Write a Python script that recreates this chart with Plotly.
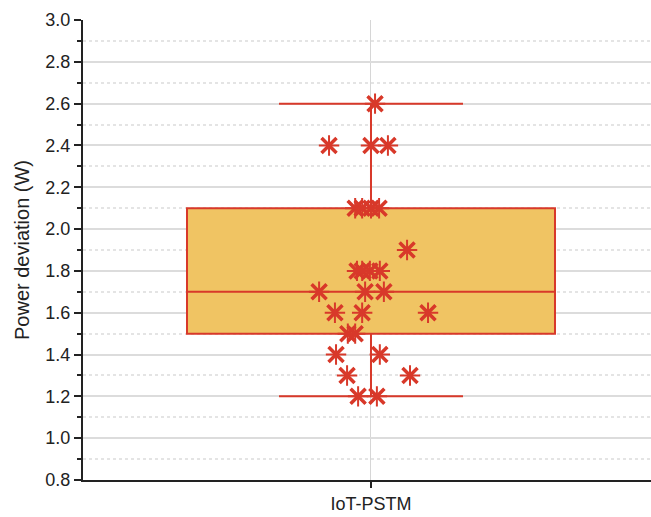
import plotly.graph_objects as go

category = "IoT-PSTM"
q1, median, q3 = 1.5, 1.7, 2.1
lower_whisker, upper_whisker = 1.2, 2.6

# observed points: jitter offset (fraction of box width) and value
point_jitter = [0.011,
                -0.114, 0.0, 0.046,
                -0.043, -0.024, 0.0, 0.022,
                0.098,
                -0.038, -0.024, -0.003, 0.024,
                -0.141, -0.016, 0.035,
                -0.098, -0.024, 0.155,
                -0.063, -0.043,
                -0.095, 0.024,
                -0.065, 0.106,
                -0.035, 0.016]
point_values = [2.6,
                2.4, 2.4, 2.4,
                2.1, 2.1, 2.1, 2.1,
                1.9,
                1.8, 1.8, 1.8, 1.8,
                1.7, 1.7, 1.7,
                1.6, 1.6, 1.6,
                1.5, 1.5,
                1.4, 1.4,
                1.3, 1.3,
                1.2, 1.2]

RED = "#D8392A"
FILL = "#F0C463"

fig = go.Figure()
fig.add_trace(go.Box(
    x=[0], q1=[q1], median=[median], q3=[q3],
    lowerfence=[lower_whisker], upperfence=[upper_whisker],
    width=1.0, whiskerwidth=0.5,
    fillcolor=FILL, line=dict(color=RED, width=2),
    boxpoints=False, hoverinfo="skip", showlegend=False,
))
fig.add_trace(go.Scatter(
    x=point_jitter, y=point_values, mode="markers",
    marker=dict(symbol="x-thin-open", size=15,
                line=dict(color=RED, width=3.5), color=RED),
    showlegend=False, hoverinfo="skip",
))
fig.add_trace(go.Scatter(
    x=point_jitter, y=point_values, mode="markers",
    marker=dict(symbol="asterisk-open", size=17,
                line=dict(color=RED, width=2), color=RED),
    showlegend=False,
))

fig.update_layout(
    width=651, height=517,
    margin=dict(l=83, r=0, t=20, b=37),
    paper_bgcolor="white", plot_bgcolor="white",
    font=dict(family="Liberation Sans, Arial, sans-serif", color="#222"),
    xaxis=dict(
        range=[-0.7826, 0.7609],
        tickvals=[0], ticktext=[category],
        showgrid=True, gridcolor="#D6D6D6", gridwidth=1,
        showline=True, linecolor="#222", linewidth=2,
        ticks="outside", ticklen=6, tickwidth=2, tickcolor="#222",
        tickfont=dict(size=18), zeroline=False,
    ),
    yaxis=dict(
        range=[0.8, 3.0], dtick=0.2, tick0=0.8, tickformat=".1f",
        showgrid=True, gridcolor="#DCDCDC", gridwidth=1.5,
        showline=True, linecolor="#222", linewidth=2,
        ticks="outside", ticklen=7, tickwidth=2, tickcolor="#222",
        tickfont=dict(size=18), zeroline=False,
        title=dict(text="Power deviation (W)", font=dict(size=20), standoff=10),
        minor=dict(dtick=0.1, tick0=0.8, showgrid=True, gridcolor="#E4E4E4",
                   griddash="dot", gridwidth=1.5, ticks="outside", ticklen=4,
                   tickcolor="#222", tickwidth=2),
    ),
)

fig.write_html("out.html")
